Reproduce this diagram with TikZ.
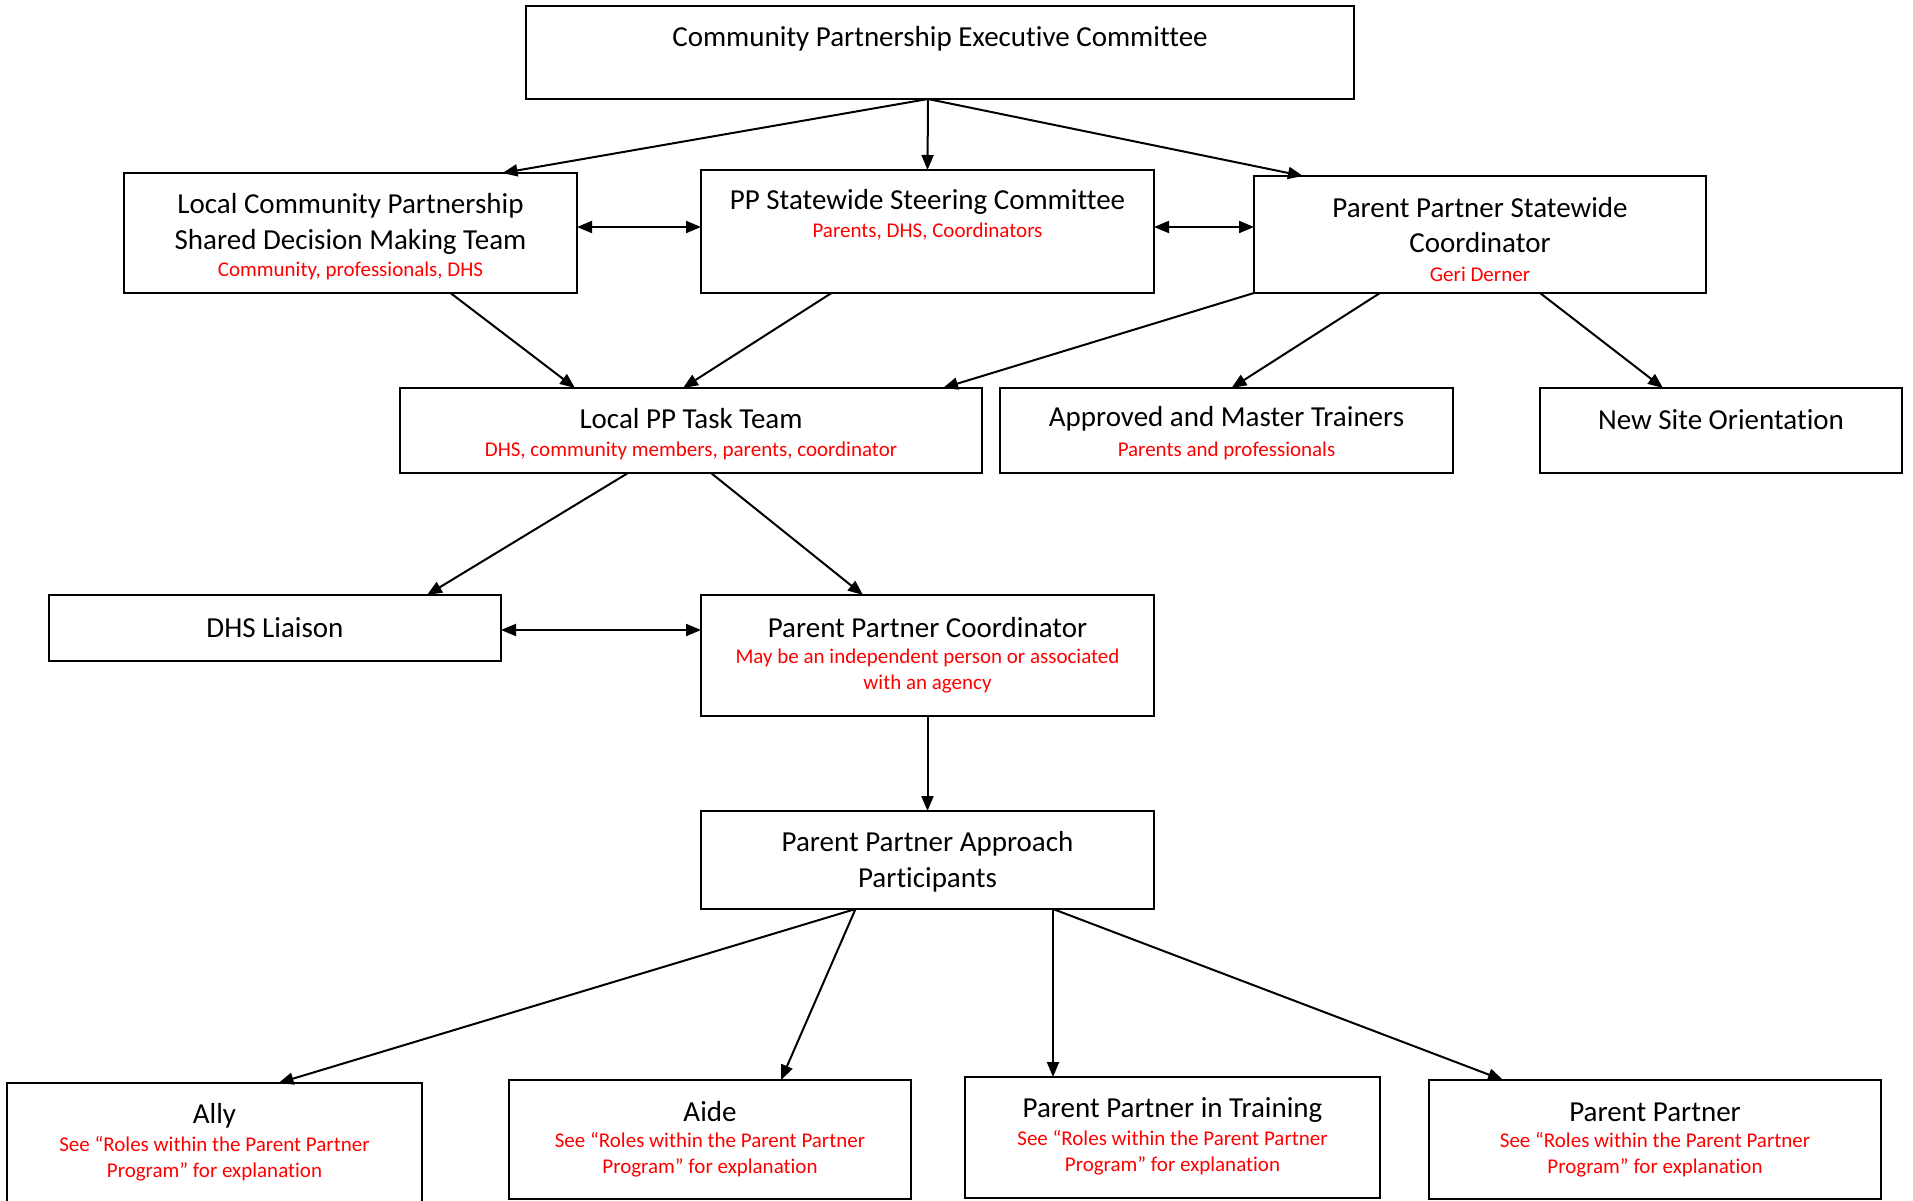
\documentclass[tikz,border=0pt]{standalone}
\usepackage{fontspec}
\setmainfont[Ligatures={NoCommon}]{Carlito}
\usetikzlibrary{arrows.meta,calc}
\tikzset{
  box/.style={draw=black, line width=2pt, rectangle, inner sep=0pt, outer sep=0pt},
  ttl/.style={align=center, inner sep=0pt, yshift=-3pt, font=\fontsize{29}{35.5}\selectfont},
  sub/.style={align=center, inner sep=0pt, yshift=-3pt, text=red, font=\fontsize{21}{26}\selectfont},
  arr/.style={line width=2pt, -{Triangle[length=15pt,width=12pt]}},
  darr/.style={line width=2pt, {Triangle[length=15pt,width=12pt]}-{Triangle[length=15pt,width=12pt]}}
}
\begin{document}
\begin{tikzpicture}[x=1pt,y=-1pt]
\useasboundingbox[fill=white] (0,0) rectangle (1913,1201);
% boxes
\node[box, minimum width=828pt, minimum height=93pt] (exec) at (940,52.5) {};
\node[box, minimum width=453pt, minimum height=120pt] (lc) at (350.5,233) {};
\node[box, minimum width=453pt, minimum height=123pt] (steer) at (927.5,231.5) {};
\node[box, minimum width=452pt, minimum height=117pt] (coord) at (1480,234.5) {};
\node[box, minimum width=582pt, minimum height=85pt] (task) at (691,430.5) {};
\node[box, minimum width=453pt, minimum height=85pt] (appr) at (1226.5,430.5) {};
\node[box, minimum width=362pt, minimum height=85pt] (newsite) at (1721,430.5) {};
\node[box, minimum width=452pt, minimum height=66pt] (dhs) at (275,628) {};
\node[box, minimum width=453pt, minimum height=121pt] (ppc) at (927.5,655.5) {};
\node[box, minimum width=453pt, minimum height=98pt] (ppa) at (927.5,860) {};
\node[box, minimum width=415pt, minimum height=147pt] (ally) at (214.5,1156.5) {};
\node[box, minimum width=402pt, minimum height=119pt] (aide) at (710,1139.5) {};
\node[box, minimum width=415pt, minimum height=121pt] (ppit) at (1172.5,1137.5) {};
\node[box, minimum width=452pt, minimum height=119pt] (pp) at (1655,1139.5) {};
% texts
\node[ttl] (exect) at (940,36) {Community Partnership Executive Committee};
\node[ttl] (lct) at (350.5,221) {Local Community Partnership\\Shared Decision Making Team};
\node[sub] (lcs) at (350.5,268) {Community, professionals, DHS};
\node[ttl] (steert) at (927.5,199) {PP Statewide Steering Committee};
\node[sub] (steers) at (927.5,229) {Parents, DHS, Coordinators};
\node[ttl] (coordt) at (1480,222) {Parent Partner Statewide\\Coordinator};
\node[sub] (coords) at (1480,271) {Geri Derner};
\node[ttl] (taskt) at (691,416) {Local PP Task Team};
\node[sub] (tasks) at (691,448) {DHS, community members, parents, coordinator};
\node[ttl] (apprt) at (1226.5,416) {Approved and Master Trainers};
\node[sub] (apprs) at (1226.5,448) {Parents and professionals};
\node[ttl] (newsitet) at (1721,417) {New Site Orientation};
\node[ttl] (dhst) at (275,625) {DHS Liaison};
\node[ttl] (ppct) at (927.5,625) {Parent Partner Coordinator};
\node[sub] (ppcs) at (927.5,668) {May be an independent person or associated\\with an agency};
\node[ttl] (ppat) at (927.5,859) {Parent Partner Approach\\Participants};
\node[ttl] (allyt) at (214.5,1113) {Ally};
\node[sub] (allys) at (214.5,1156) {See “Roles within the Parent Partner\\Program” for explanation};
\node[ttl] (aidet) at (710,1109) {Aide};
\node[sub] (aides) at (710,1152) {See “Roles within the Parent Partner\\Program” for explanation};
\node[ttl] (ppitt) at (1172.5,1107) {Parent Partner in Training};
\node[sub] (ppits) at (1172.5,1150) {See “Roles within the Parent Partner\\Program” for explanation};
\node[ttl] (ppt) at (1655,1109) {Parent Partner};
\node[sub] (pps) at (1655,1152) {See “Roles within the Parent Partner\\Program” for explanation};
% connectors
\draw[arr] ([xshift=-12pt]exec.south) -- ([xshift=152pt]lc.north);
\draw[arr] ([xshift=-12pt]exec.south) -- (steer.north);
\draw[arr] ([xshift=-12pt]exec.south) -- ([xshift=-177pt]coord.north);
\draw[darr] ([yshift=6pt]lc.east) -- ([yshift=6pt]lc.east -| steer.west);
\draw[darr] ([yshift=4.5pt]steer.east) -- ([yshift=4.5pt]steer.east -| coord.west);
\draw[arr] ([xshift=100pt]lc.south) -- ([xshift=-116pt]task.north);
\draw[arr] ([xshift=-96pt]steer.south) -- ([xshift=-8pt]task.north);
\draw[arr] (coord.south west) -- ([xshift=252pt]task.north);
\draw[arr] ([xshift=-100pt]coord.south) -- ([xshift=5pt]appr.north);
\draw[arr] ([xshift=60pt]coord.south) -- ([xshift=-58pt]newsite.north);
\draw[arr] ([xshift=-63pt]task.south) -- ([xshift=152pt]dhs.north);
\draw[arr] ([xshift=20pt]task.south) -- ([xshift=-64.5pt]ppc.north);
\draw[darr] ([yshift=-2pt]dhs.east) -- ([yshift=-2pt]dhs.east -| ppc.west);
\draw[arr] (ppc.south) -- (ppa.north);
\draw[arr] ([xshift=-72pt]ppa.south) -- ([xshift=64pt]ally.north);
\draw[arr] ([xshift=-72pt]ppa.south) -- ([xshift=71pt]aide.north);
\draw[arr] ([xshift=125.5pt]ppa.south) -- ([xshift=-119.5pt]ppit.north);
\draw[arr] ([xshift=125.5pt]ppa.south) -- ([xshift=-152pt]pp.north);
\end{tikzpicture}
\end{document}
